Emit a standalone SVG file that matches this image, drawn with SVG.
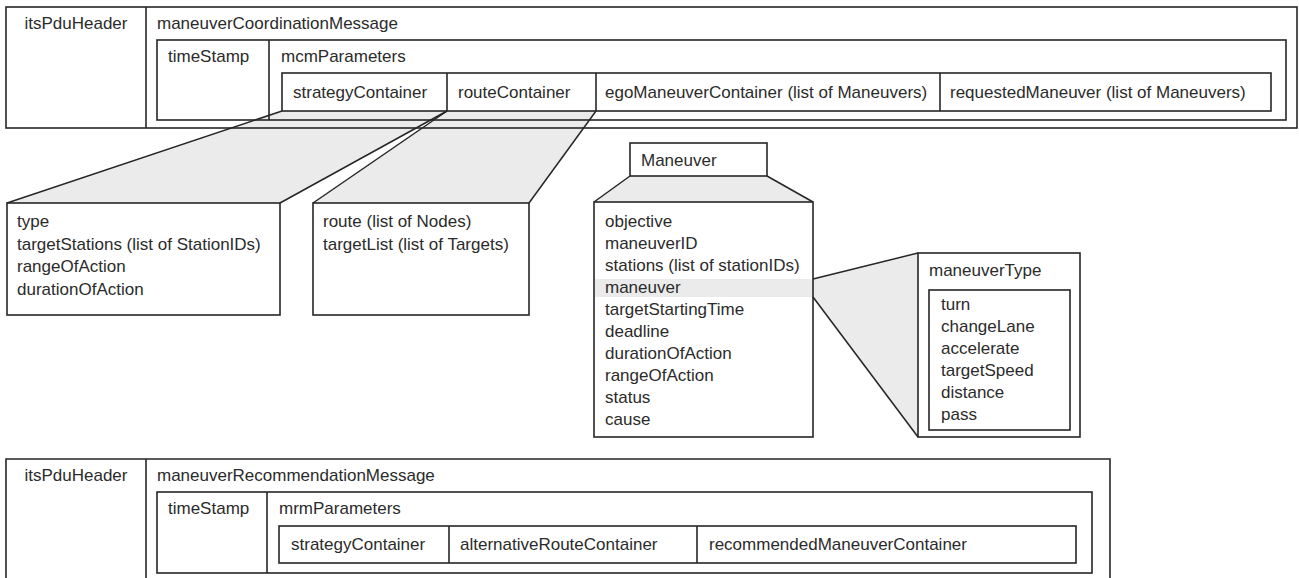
<svg xmlns="http://www.w3.org/2000/svg" width="1299" height="578" viewBox="0 0 1299 578">
<style>
.b{fill:none;stroke:#262626;stroke-width:1.6}
.t{font-family:"Liberation Sans",Arial,sans-serif;font-size:17px;fill:#2b2b2b}
.c{text-anchor:middle}
.f{fill:#ebebeb;stroke:none}
.l{stroke:#262626;stroke-width:1.5;fill:none}
</style>
<rect x="0" y="0" width="1299" height="578" fill="#fff"/>
<g id="connectors">
<polygon class="f" points="282,111 447,111 280,203 7,203"/>
<polygon class="f" points="447,111 596,111 529,203 313,203"/>
<polygon class="f" points="630,176 767,176 813,202 594,202"/>
<polygon class="f" points="813,279 918,253 918,437 813,297"/>
<rect class="f" x="595" y="279" width="218" height="18"/>
<line class="l" x1="282" y1="111" x2="7" y2="203"/>
<line class="l" x1="447" y1="111" x2="280" y2="203"/>
<line class="l" x1="447" y1="111" x2="313" y2="203"/>
<line class="l" x1="596" y1="111" x2="529" y2="203"/>
<line class="l" x1="630" y1="176" x2="594" y2="202"/>
<line class="l" x1="767" y1="176" x2="813" y2="202"/>
<line class="l" x1="813" y1="279" x2="918" y2="253"/>
<line class="l" x1="813" y1="297" x2="918" y2="437"/>
</g>
<g id="mcm">
<rect class="b" x="6" y="7" width="1291" height="121"/>
<line class="b" x1="146" y1="7" x2="146" y2="128"/>
<text class="t c" x="76" y="29">itsPduHeader</text>
<text class="t" x="157" y="29">maneuverCoordinationMessage</text>
<rect class="b" x="157" y="40" width="1129" height="80"/>
<line class="b" x1="269" y1="40" x2="269" y2="120"/>
<text class="t" x="168" y="62">timeStamp</text>
<text class="t" x="281" y="62">mcmParameters</text>
<rect class="b" x="282" y="73" width="989" height="38"/>
<line class="b" x1="447" y1="73" x2="447" y2="111"/>
<line class="b" x1="596" y1="73" x2="596" y2="111"/>
<line class="b" x1="940" y1="73" x2="940" y2="111"/>
<text class="t" x="293" y="98">strategyContainer</text>
<text class="t" x="458" y="98">routeContainer</text>
<text class="t" x="605" y="98">egoManeuverContainer (list of Maneuvers)</text>
<text class="t" x="950" y="98">requestedManeuver (list of Maneuvers)</text>
</g>
<g id="strategyDetails">
<rect class="b" x="7" y="203" width="273" height="112"/>
<text class="t" x="17" y="227">type</text>
<text class="t" x="17" y="250">targetStations (list of StationIDs)</text>
<text class="t" x="17" y="272">rangeOfAction</text>
<text class="t" x="17" y="295">durationOfAction</text>
</g>
<g id="routeDetails">
<rect class="b" x="313" y="203" width="216" height="112"/>
<text class="t" x="323" y="227">route (list of Nodes)</text>
<text class="t" x="323" y="250">targetList (list of Targets)</text>
</g>
<g id="maneuverHeader">
<rect class="b" x="630" y="143" width="137" height="33"/>
<text class="t" x="641" y="166">Maneuver</text>
</g>
<g id="maneuverBody">
<rect class="b" x="594" y="202" width="219" height="235"/>
<text class="t" x="605" y="227">objective</text>
<text class="t" x="605" y="249">maneuverID</text>
<text class="t" x="605" y="271">stations (list of stationIDs)</text>
<text class="t" x="605" y="293">maneuver</text>
<text class="t" x="605" y="315">targetStartingTime</text>
<text class="t" x="605" y="337">deadline</text>
<text class="t" x="605" y="359">durationOfAction</text>
<text class="t" x="605" y="381">rangeOfAction</text>
<text class="t" x="605" y="403">status</text>
<text class="t" x="605" y="425">cause</text>
</g>
<g id="maneuverType">
<rect class="b" x="918" y="253" width="162" height="184"/>
<text class="t" x="929" y="276">maneuverType</text>
<rect class="b" x="929" y="290" width="141" height="140"/>
<text class="t" x="941" y="310">turn</text>
<text class="t" x="941" y="332">changeLane</text>
<text class="t" x="941" y="354">accelerate</text>
<text class="t" x="941" y="376">targetSpeed</text>
<text class="t" x="941" y="398">distance</text>
<text class="t" x="941" y="420">pass</text>
</g>
<g id="mrm">
<path class="b" d="M6,580 V459 H1110 V580"/>
<line class="b" x1="146" y1="459" x2="146" y2="580"/>
<text class="t c" x="76" y="481">itsPduHeader</text>
<text class="t" x="157" y="481">maneuverRecommendationMessage</text>
<rect class="b" x="157" y="492" width="935" height="81"/>
<line class="b" x1="267" y1="492" x2="267" y2="573"/>
<text class="t" x="168" y="514">timeStamp</text>
<text class="t" x="279" y="514">mrmParameters</text>
<rect class="b" x="279" y="526" width="797" height="37"/>
<line class="b" x1="449" y1="526" x2="449" y2="563"/>
<line class="b" x1="697" y1="526" x2="697" y2="563"/>
<text class="t" x="291" y="550">strategyContainer</text>
<text class="t" x="460" y="550">alternativeRouteContainer</text>
<text class="t" x="709" y="550">recommendedManeuverContainer</text>
</g>
</svg>
